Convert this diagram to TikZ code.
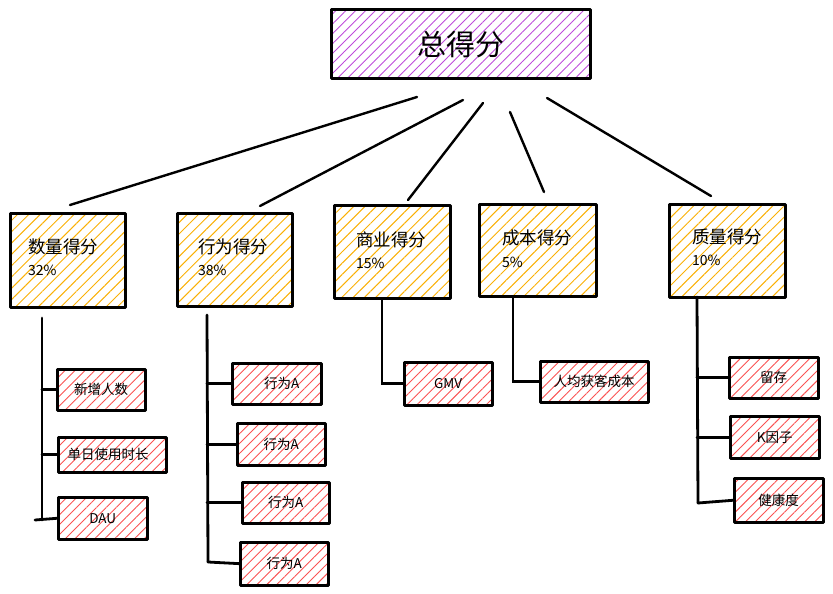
\documentclass[tikz,border=0pt]{standalone}
\usepackage{fontspec}
\newfontfamily\cjk{Noto Sans CJK SC}
\usetikzlibrary{patterns.meta}
\definecolor{hpurple}{HTML}{BE4BDB}
\definecolor{horange}{HTML}{FAB005}
\definecolor{hred}{HTML}{FA5252}
\begin{document}
\begin{tikzpicture}[x=1pt,y=-1pt,
  boxbase/.style={inner sep=0pt, anchor=north west},
  rootbox/.style={boxbase, pattern={Lines[angle=45,distance=7pt,line width=0.9pt]}, pattern color=hpurple},
  catbox/.style={boxbase, pattern={Lines[angle=45,distance=8pt,line width=1pt]}, pattern color=horange},
  leafbox/.style={boxbase, pattern={Lines[angle=45,distance=7pt,line width=0.9pt]}, pattern color=hred},
  frame/.style={draw=black, line width=3pt, line join=round},
  roottext/.style={font=\cjk\fontsize{29}{33}\selectfont, inner sep=0pt},
  cattext/.style={font=\cjk\fontsize{17.5}{20}\selectfont, inner sep=0pt, anchor=west},
  pcttext/.style={font=\cjk\fontsize{14}{16}\selectfont, inner sep=0pt, anchor=west},
  leaftext/.style={font=\cjk\fontsize{13.5}{16}\selectfont, inner sep=0pt},
  link/.style={line width=2.4pt, line cap=round},
  trunk/.style={line width=2.8pt, line cap=round}]
\useasboundingbox (0,0) rectangle (833,594);

% root
\node[rootbox, minimum width=259pt, minimum height=68pt] (root) at (331,10) {};
\node[roottext] (roott) at (root.center) {总得分};

% category boxes
\node[catbox, minimum width=114pt, minimum height=93pt] (q1) at (10,213) {};
\node[catbox, minimum width=115pt, minimum height=93pt] (q2) at (177,213) {};
\node[catbox, minimum width=116pt, minimum height=93pt] (q3) at (334,205) {};
\node[catbox, minimum width=117pt, minimum height=92pt] (q4) at (479,204) {};
\node[catbox, minimum width=116pt, minimum height=93pt] (q5) at (669,204) {};

\node[cattext] (q1t) at (28,247) {数量得分};
\node[pcttext] (q1p) at (28,270) {32\%};
\node[cattext] (q2t) at (198,247) {行为得分};
\node[pcttext] (q2p) at (198,270) {38\%};
\node[cattext] (q3t) at (356,240) {商业得分};
\node[pcttext] (q3p) at (356,263) {15\%};
\node[cattext] (q4t) at (502,238) {成本得分};
\node[pcttext] (q4p) at (502,262) {5\%};
\node[cattext] (q5t) at (692,237) {质量得分};
\node[pcttext] (q5p) at (692,260) {10\%};

% root connectors (free lines)
\coordinate (r1a) at (417,97);  \coordinate (r1b) at (70,205);
\coordinate (r2a) at (463,100); \coordinate (r2b) at (260,206);
\coordinate (r3a) at (483,103); \coordinate (r3b) at (408,200);
\coordinate (r4a) at (510,112); \coordinate (r4b) at (544,192);
\coordinate (r5a) at (547,98);  \coordinate (r5b) at (711,196);
\draw[link] (r1a) -- (r1b);
\draw[link] (r2a) -- (r2b);
\draw[link] (r3a) -- (r3b);
\draw[link] (r4a) -- (r4b);
\draw[link] (r5a) -- (r5b);

% leaf boxes
\node[leafbox, minimum width=88pt, minimum height=41pt] (l11) at (57,369) {};
\node[leafbox, minimum width=108pt, minimum height=35pt] (l12) at (58,437) {};
\node[leafbox, minimum width=89pt, minimum height=42pt] (l13) at (58,497) {};
\node[leafbox, minimum width=89pt, minimum height=41pt] (l21) at (232,363) {};
\node[leafbox, minimum width=88pt, minimum height=42pt] (l22) at (237,423) {};
\node[leafbox, minimum width=87pt, minimum height=41pt] (l23) at (242,482) {};
\node[leafbox, minimum width=88pt, minimum height=43pt] (l24) at (240,542) {};
\node[leafbox, minimum width=88pt, minimum height=43pt] (l31) at (404,362) {};
\node[leafbox, minimum width=108pt, minimum height=41pt] (l41) at (540,361) {};
\node[leafbox, minimum width=89pt, minimum height=41pt] (l51) at (729,357) {};
\node[leafbox, minimum width=89pt, minimum height=42pt] (l52) at (730,416) {};
\node[leafbox, minimum width=89pt, minimum height=44pt] (l53) at (734,478) {};

% frames drawn on top of the hatching
\foreach \n in {root,q1,q2,q3,q4,q5,l11,l12,l13,l21,l22,l23,l24,l31,l41,l51,l52,l53}
  \draw[frame] (\n.north west) rectangle (\n.south east);

\node[leaftext] (l11t) at (l11.center) {新增人数};
\node[leaftext] (l12t) at ([xshift=-4pt]l12.center) {单日使用时长};
\node[leaftext] (l13t) at (l13.center) {DAU};
\node[leaftext] (l21t) at ([xshift=5pt]l21.center) {行为A};
\node[leaftext] (l22t) at (l22.center) {行为A};
\node[leaftext] (l23t) at (l23.center) {行为A};
\node[leaftext] (l24t) at (l24.center) {行为A};
\node[leaftext] (l31t) at (l31.center) {GMV};
\node[leaftext] (l41t) at (l41.center) {人均获客成本};
\node[leaftext] (l51t) at (l51.center) {留存};
\node[leaftext] (l52t) at (l52.center) {K因子};
\node[leaftext] (l53t) at (l53.center) {健康度};

% trees
\coordinate (t1top) at (42,318); \coordinate (t1bot) at (42,520);
\draw[trunk] (t1top) -- (t1bot);
\draw[trunk] (t1top |- l11.west) -- (l11.west);
\draw[trunk] (t1top |- l12.west) -- (l12.west);
\coordinate (t1end) at (35,520);
\draw[trunk] (t1end) -- (l13.west);

\coordinate (t2top) at (207,315); \coordinate (t2bot) at (208,562);
\draw[trunk] (t2top) -- (t2bot);
\draw[trunk] (t2top |- l21.west) -- (l21.west);
\draw[trunk] (t2top |- l22.west) -- (l22.west);
\draw[trunk] (t2top |- l23.west) -- (l23.west);
\draw[trunk] (t2bot) -- (l24.west);

\coordinate (t3top) at (382,300);
\draw[trunk] (t3top) |- (l31.west);

\coordinate (t4top) at (513,297);
\draw[trunk] (t4top) |- (l41.west);

\coordinate (t5top) at (697,297); \coordinate (t5bot) at (698,503);
\draw[trunk] (t5top) -- (t5bot);
\draw[trunk] (t5top |- l51.west) -- (l51.west);
\draw[trunk] (t5top |- l52.west) -- (l52.west);
\draw[trunk] (t5bot) -- (l53.west);
\end{tikzpicture}
\end{document}
